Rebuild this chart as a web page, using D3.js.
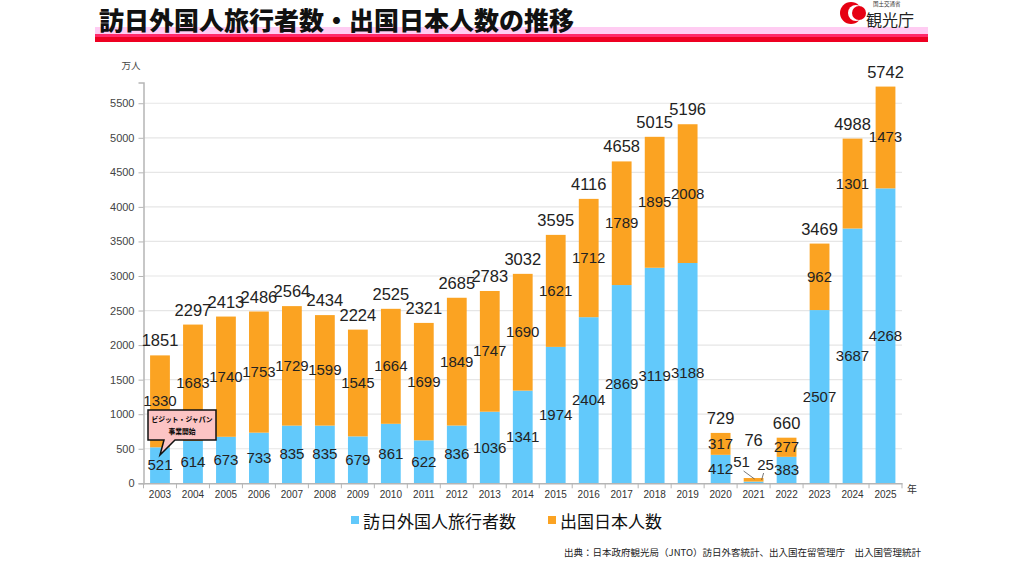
<!DOCTYPE html>
<html><head><meta charset="utf-8">
<script src="https://cdn.jsdelivr.net/npm/d3@7"></script>
<style>
body{margin:0;background:#fff;}
svg{display:block;font-family:"Noto Sans CJK JP","Liberation Sans",sans-serif;}
</style>
</head><body>
<script>
// data (万人)
var years = ["2003","2004","2005","2006","2007","2008","2009","2010","2011","2012","2013","2014","2015","2016","2017","2018","2019","2020","2021","2022","2023","2024","2025"];
var inbound = [521,614,673,733,835,835,679,861,622,836,1036,1341,1974,2404,2869,3119,3188,412,25,383,2507,3687,4268];
var outbound = [1330,1683,1740,1753,1729,1599,1545,1664,1699,1849,1747,1690,1621,1712,1789,1895,2008,317,51,277,962,1301,1473];
var totals = [1851,2297,2413,2486,2564,2434,2224,2525,2321,2685,2783,3032,3595,4116,4658,5015,5196,729,76,660,3469,4988,5742];
var yTicks = [0,500,1000,1500,2000,2500,3000,3500,4000,4500,5000,5500];
var seriesNames = ["訪日外国人旅行者数","出国日本人数"];
var colors = ["#62c9fb","#fba322"];

var W = 1024, H = 576;
var svg = d3.select("body").append("svg").attr("width", W).attr("height", H);

// header
svg.append("rect").attr("x",95).attr("y",27).attr("width",833).attr("height",7).attr("fill","#ffccf2");
svg.append("rect").attr("x",95).attr("y",34).attr("width",833).attr("height",3).attr("fill","#ff2a6a");
svg.append("rect").attr("x",95).attr("y",37).attr("width",833).attr("height",5).attr("fill","#ee0022");
svg.append("text").attr("x",99).attr("y",30).attr("font-size",25).attr("font-weight",900)
  .attr("fill","#111").text("訪日外国人旅行者数・出国日本人数の推移");

// logo
var logo = svg.append("g");
logo.append("circle").attr("cx",851).attr("cy",13).attr("r",11).attr("fill","#e60012");
logo.append("circle").attr("cx",856).attr("cy",13).attr("r",8).attr("fill","#fff");
logo.append("circle").attr("cx",859).attr("cy",13).attr("r",7).attr("fill","#e60012");
logo.append("text").attr("x",873).attr("y",6).attr("font-size",5.5).attr("fill","#333").text("国土交通省");
logo.append("text").attr("x",866).attr("y",26).attr("font-size",16).attr("fill","#222").text("観光庁");

var x = d3.scaleBand().domain(years).range([143.5, 902]).paddingInner(0.4).paddingOuter(0.2);
var y = d3.scaleLinear().domain([0,5800]).range([483.3, 82.5]);

// grid
svg.append("g").selectAll("line").data(yTicks.slice(1)).enter().append("line")
  .attr("x1",143.5).attr("x2",902).attr("y1",function(d){return y(d);}).attr("y2",function(d){return y(d);})
  .attr("stroke","#e6e6e6").attr("stroke-width",1.2);

// y axis
var yAxis = svg.append("g").attr("transform","translate(143.5,0)")
  .call(d3.axisLeft(y).tickValues(yTicks).tickFormat(d3.format("d")).tickSize(5).tickPadding(4));
yAxis.select(".domain").attr("stroke","#b5b5b5").attr("stroke-width",1.5);
yAxis.selectAll(".tick line").attr("stroke","#b5b5b5");
yAxis.selectAll("text").attr("font-size",11).attr("fill","#444").attr("font-family","Liberation Sans, Arial, sans-serif");
svg.append("text").attr("x",131).attr("y",69).attr("text-anchor","middle").attr("font-size",9.5).attr("fill","#444").text("万人");

// bars
var rows = years.map(function(yr,i){ return {year:yr, a:inbound[i], b:outbound[i], t:totals[i]}; });
var g = svg.append("g");
g.selectAll(".ba").data(rows).enter().append("rect")
  .attr("x",function(d){return x(d.year);}).attr("width",x.bandwidth())
  .attr("y",function(d){return y(d.a);}).attr("height",function(d){return y(0)-y(d.a);})
  .attr("fill",colors[0]);
g.selectAll(".bb").data(rows).enter().append("rect")
  .attr("x",function(d){return x(d.year);}).attr("width",x.bandwidth())
  .attr("y",function(d){return y(d.a+d.b);}).attr("height",function(d){return y(d.a)-y(d.a+d.b);})
  .attr("fill",colors[1]);

// x axis
var xAxis = svg.append("g").attr("transform","translate(0,483.3)")
  .call(d3.axisBottom(x).tickSize(0).tickPadding(8));
xAxis.select(".domain").attr("stroke","#b5b5b5").attr("stroke-width",1.5);
xAxis.selectAll("text").attr("font-size",10).attr("fill","#333").attr("font-family","Liberation Sans, Arial, sans-serif");
// boundary ticks between categories
xAxis.selectAll(".sep").data(d3.range(years.length+1)).enter().append("line")
  .attr("x1",function(i){return 143.5 + i*(902-143.5)/years.length;})
  .attr("x2",function(i){return 143.5 + i*(902-143.5)/years.length;})
  .attr("y1",0).attr("y2",5).attr("stroke","#b5b5b5");
svg.append("text").attr("x",912).attr("y",493).attr("text-anchor","middle").attr("font-size",10).attr("fill","#333").text("年");

// value labels
var lab = svg.append("g").attr("font-family","Liberation Sans, Arial, sans-serif").attr("fill","#222").attr("text-anchor","middle");
rows.forEach(function(d){
  var cx = x(d.year) + x.bandwidth()/2;
  if (d.year === "2021") {
    // tiny bar: labels pulled out with leader lines
    lab.append("text").attr("x",cx-12).attr("y",467).attr("font-size",15).text(d.b);
    lab.append("text").attr("x",cx+12).attr("y",470).attr("font-size",15).text(d.a);
    lab.append("line").attr("x1",cx-10).attr("y1",471).attr("x2",cx+1).attr("y2",479).attr("stroke","#555").attr("stroke-width",0.8);
    lab.append("line").attr("x1",cx+10).attr("y1",473).attr("x2",cx+8).attr("y2",480).attr("stroke","#555").attr("stroke-width",0.8);
    lab.append("text").attr("x",cx).attr("y",y(d.t)-32).attr("font-size",16.5).text(d.t);
  } else {
    lab.append("text").attr("x",cx).attr("y",(y(0)+y(d.a))/2+5).attr("font-size",15).text(d.a);
    lab.append("text").attr("x",cx).attr("y",(y(d.a)+y(d.a+d.b))/2+5).attr("font-size",15).text(d.b);
    lab.append("text").attr("x",cx).attr("y",y(d.t)-9).attr("font-size",16.5).text(d.t);
  }
});

// callout
var co = svg.append("g");
co.append("path").attr("d","M148,410 L216,410 L216,440 L175,440 L160,455 L164,440 L148,440 Z")
  .attr("fill","#fcc4c4").attr("stroke","#111").attr("stroke-width",1.5);
co.append("text").attr("x",182).attr("y",422).attr("text-anchor","middle").attr("font-size",6.8).attr("font-weight",700).text("ビジット・ジャパン");
co.append("text").attr("x",182).attr("y",434).attr("text-anchor","middle").attr("font-size",6.8).attr("font-weight",700).text("事業開始");

// legend
var lg = svg.append("g");
var lx = [351, 548];
seriesNames.forEach(function(n,i){
  lg.append("rect").attr("x",lx[i]).attr("y",516).attr("width",8).attr("height",8).attr("fill",colors[i]);
  lg.append("text").attr("x",lx[i]+12).attr("y",528).attr("font-size",17).attr("fill","#111").text(n);
});

// source
svg.append("text").attr("x",921).attr("y",556).attr("text-anchor","end").attr("font-size",9.5).attr("fill","#222")
  .text("出典：日本政府観光局（JNTO）訪日外客統計、出入国在留管理庁　出入国管理統計");
</script>
</body></html>
